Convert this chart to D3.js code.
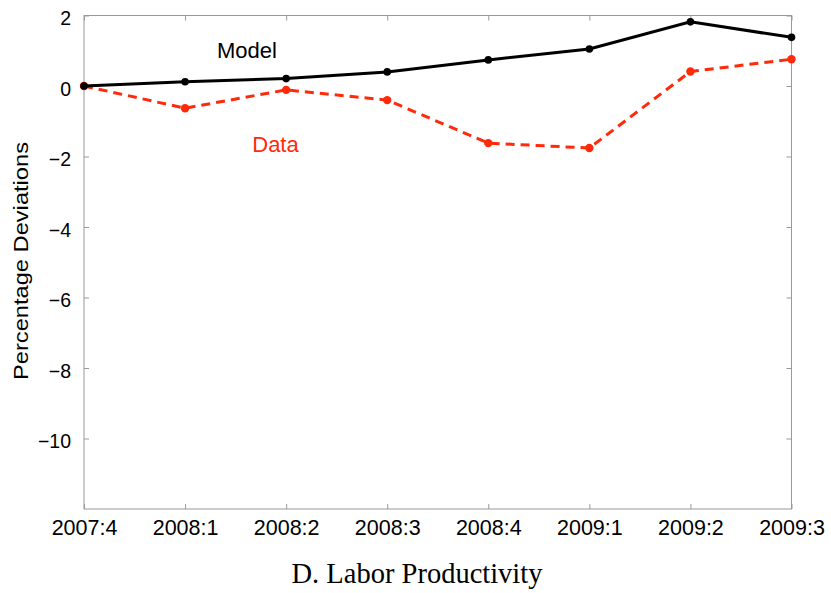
<!DOCTYPE html>
<html><head><meta charset="utf-8">
<script src="https://cdn.jsdelivr.net/npm/d3@7"></script>
<style>body{margin:0;background:#fff}</style>
</head><body>
<svg id="c" width="831" height="593"></svg>
<script>
const categories = ["2007:4","2008:1","2008:2","2008:3","2008:4","2009:1","2009:2","2009:3"];
const modelValues = [0, 0.12, 0.21, 0.40, 0.74, 1.05, 1.82, 1.38];
const dataValues = [0, -0.63, -0.11, -0.40, -1.62, -1.76, 0.41, 0.76];
const yTicks = [2, 0, -2, -4, -6, -8, -10];

const svg = d3.select("#c");
const L = 84, R = 791.5, T = 15.5, B = 509;
const x = d3.scalePoint().domain(categories).range([L, R]);
const y = d3.scaleLinear().domain([-12, 2]).range([B, T]);
const axisColor = "#999";
const font = "'Liberation Sans', Arial, sans-serif";

svg.append("rect").attr("x", L).attr("y", T).attr("width", R - L).attr("height", B - T)
  .attr("fill", "none").attr("stroke", axisColor).attr("stroke-width", 1);

const tl = 5;
function styleAxis(g){
  g.select(".domain").remove();
  g.selectAll(".tick line").attr("stroke", axisColor);
  g.selectAll(".tick text").attr("fill", "#000").style("font-family", font);
}
const xb = svg.append("g").attr("transform", `translate(0,${B})`)
  .call(d3.axisBottom(x).tickSizeInner(-tl).tickSizeOuter(0))
  .call(styleAxis);
xb.selectAll(".tick text").attr("y", 26).attr("dy", null).style("font-size", "21.5px");

svg.append("g").attr("transform", `translate(0,${T})`)
  .call(d3.axisTop(x).tickSizeInner(-tl).tickSizeOuter(0).tickFormat(""))
  .call(styleAxis);

const fmt = d => d < 0 ? "\u2212" + Math.abs(d) : String(d);
const yl = svg.append("g").attr("transform", `translate(${L},0)`)
  .call(d3.axisLeft(y).tickValues(yTicks).tickSizeInner(-tl).tickSizeOuter(0).tickPadding(13).tickFormat(fmt))
  .call(styleAxis);
yl.selectAll(".tick text").attr("dy", "0.47em").attr("y", 0).style("font-size", "19.5px");

svg.append("g").attr("transform", `translate(${R},0)`)
  .call(d3.axisRight(y).tickValues(yTicks).tickSizeInner(-tl).tickSizeOuter(0).tickFormat(""))
  .call(styleAxis);

const line = d3.line().x((d, i) => x(categories[i])).y(d => y(d));
svg.append("path").datum(dataValues).attr("d", line).attr("fill", "none")
  .attr("stroke", "#ff2a0a").attr("stroke-width", 3).attr("stroke-dasharray", "9,6");
svg.selectAll(".dd").data(dataValues).enter().append("circle")
  .attr("cx", (d, i) => x(categories[i])).attr("cy", d => y(d)).attr("r", 4.2).attr("fill", "#ff2a0a");

svg.append("path").datum(modelValues).attr("d", line).attr("fill", "none")
  .attr("stroke", "#000").attr("stroke-width", 3);
svg.selectAll(".md").data(modelValues).enter().append("circle")
  .attr("cx", (d, i) => x(categories[i])).attr("cy", d => y(d)).attr("r", 3.8).attr("fill", "#000");

svg.append("text").attr("x", 247).attr("y", 57.5).attr("text-anchor", "middle")
  .style("font-family", font).style("font-size", "22px").attr("fill", "#000").text("Model");
svg.append("text").attr("x", 275.5).attr("y", 151.5).attr("text-anchor", "middle")
  .style("font-family", font).style("font-size", "22px").attr("fill", "#ff2a0a").text("Data");

svg.append("text").attr("transform", `translate(28,${261}) rotate(-90)`).attr("text-anchor", "middle")
  .attr("textLength", 238).attr("lengthAdjust", "spacingAndGlyphs")
  .style("font-family", font).style("font-size", "20px").attr("fill", "#000").text("Percentage Deviations");

svg.append("text").attr("x", 417).attr("y", 583).attr("text-anchor", "middle")
  .style("font-family", "'Liberation Serif', 'Times New Roman', serif").style("font-size", "28.5px")
  .attr("fill", "#000").text("D. Labor Productivity");
</script>
</body></html>
